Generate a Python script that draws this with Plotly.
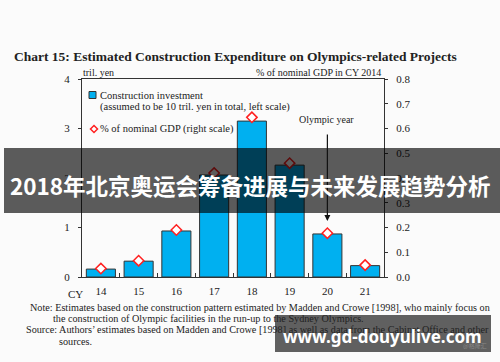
import plotly.graph_objects as go

# ---- data ----
years = ["14", "15", "16", "17", "18", "19", "20", "21"]
investment = [0.16, 0.32, 0.93, 2.06, 3.15, 2.26, 0.87, 0.23]      # tril. yen (left)
gdp_share = [0.034, 0.066, 0.19, 0.42, 0.645, 0.46, 0.177, 0.048]  # % of GDP (right)
left_ticks = [0, 1, 2, 3, 4]
right_ticks = [0.0, 0.1, 0.2, 0.3, 0.4, 0.5, 0.6, 0.7, 0.8]
olympic_year = "20"

W, H = 500, 362
L, R, T, B = 82, 116, 79, 85
PW, PH = W - L - R, H - T - B


def px(x):
    return (x - L) / PW


def py(y):
    return (H - B - y) / PH


SERIF = "Liberation Serif"
fig = go.Figure()
fig.add_trace(go.Bar(
    x=years, y=investment, width=0.77,
    marker=dict(color="#00b0f0", line=dict(color="#333333", width=1)),
    showlegend=False,
))
fig.add_trace(go.Scatter(
    x=years, y=gdp_share, yaxis="y2", mode="markers",
    marker=dict(symbol="diamond", size=8, color="white",
                line=dict(color="#ff2020", width=1.5)),
    showlegend=False,
))

axis_font = dict(family=SERIF, size=11, color="#222")
fig.update_layout(
    width=W, height=H,
    margin=dict(l=L, r=R, t=T, b=B),
    paper_bgcolor="#fbfbfb", plot_bgcolor="#fbfbfb",
    font=dict(family=SERIF, color="#222"),
    bargap=0.2,
    xaxis=dict(
        type="category", range=[-0.5, len(years) - 0.5], automargin=False,
        showline=True, linecolor="#333", linewidth=1, mirror=True,
        ticks="inside", tickson="boundaries", ticklen=4, tickcolor="#333",
        tickfont=axis_font, showgrid=False, ticklabelstandoff=4, tickangle=0,
    ),
    yaxis=dict(
        range=[0, 4], tickvals=left_ticks, showline=True, linecolor="#333", linewidth=1,
        ticks="outside", ticklen=3, tickcolor="#333", tickfont=axis_font, automargin=False,
        showgrid=False, zeroline=False, ticklabelstandoff=6,
    ),
    yaxis2=dict(
        range=[0, 0.8], tickvals=right_ticks, tickformat=".1f", overlaying="y",
        side="right", showline=True, linecolor="#333", linewidth=1, automargin=False,
        ticks="outside", ticklen=3, tickcolor="#333", tickfont=axis_font,
        showgrid=False, zeroline=False, ticklabelstandoff=6,
    ),
)

ann = []


def text(x, y, s, size=10, xanchor="left", color="#222", family=SERIF):
    ann.append(dict(xref="paper", yref="paper", x=px(x), y=py(y), text=s,
                    showarrow=False, xanchor=xanchor, yanchor="middle",
                    font=dict(family=family, size=size, color=color)))


text(12, 57, "<b>Chart 15: Estimated Construction Expenditure on Olympics-related Projects</b>", size=13.5)
text(81, 72, "tril. yen", size=10)
text(383, 72, "% of nominal GDP in CY 2014", size=10, xanchor="right")
text(98, 95, "Construction investment", size=10.5)
text(98, 107, "(assumed to be 10 tril. yen in total, left scale)", size=10.5)
text(98, 129, "% of nominal GDP (right scale)", size=10.5)
text(326, 119, "Olympic year", size=10, xanchor="center")
text(75, 294, "CY", size=11, xanchor="center")
text(28, 307, "Note: Estimates based on the construction pattern estimated by Madden and Crowe [1998], who mainly focus on", size=10.2)
text(51, 318, "the construction of Olympic facilities in the run-up to the Sydney Olympics.", size=10.2)
text(24, 329, "Source: Authors\u2019 estimates based on Madden and Crowe [1998] as well as data from the Cabinet Office and other", size=10.2)
text(57, 341, "sources.", size=10.2)

# Olympic year arrow
oi = years.index(olympic_year)
ann.append(dict(xref="x", yref="y domain", x=oi, y=py(221), ax=oi, ay=py(133),
                axref="x", ayref="y domain", showarrow=True, arrowhead=2, arrowsize=1,
                arrowwidth=1.2, arrowcolor="#111", text=""))

shapes = [
    # legend symbols
    dict(type="rect", xref="paper", yref="paper", x0=px(89), x1=px(96), y0=py(98.5), y1=py(91.5),
         fillcolor="#00b0f0", line=dict(color="#333", width=1)),
    dict(type="path", xref="paper", yref="paper",
         path=f"M {px(94)} {py(125.5)} L {px(97.5)} {py(129)} L {px(94)} {py(132.5)} L {px(90.5)} {py(129)} Z",
         fillcolor="white", line=dict(color="#ff2020", width=1.5)),
    # overlay banner
    dict(type="rect", xref="paper", yref="paper", x0=px(4), x1=px(500), y0=py(213), y1=py(148),
         fillcolor="rgba(0,0,0,0.64)", line=dict(width=0), layer="above"),
    # watermark box
    dict(type="rect", xref="paper", yref="paper", x0=px(275), x1=px(491), y0=py(352), y1=py(315),
         fillcolor="rgba(0,0,0,0.62)", line=dict(width=0), layer="above"),
]

text(250, 185, "<b>2018年北京奥运会筹备进展与未来发展趋势分析</b>", size=22.5, xanchor="center",
     color="white", family="Noto Sans CJK SC")
text(382, 336, "<b>www.gd-douyulive.com</b>", size=17, xanchor="center",
     color="white", family="Noto Sans")
text(489, 345, "@格隆汇", size=6, xanchor="right", color="#888", family="Noto Sans CJK SC")

fig.update_layout(annotations=ann, shapes=shapes)
fig.write_html("out.html", config={"displayModeBar": False},
               post_script="document.body.style.margin='0';")
